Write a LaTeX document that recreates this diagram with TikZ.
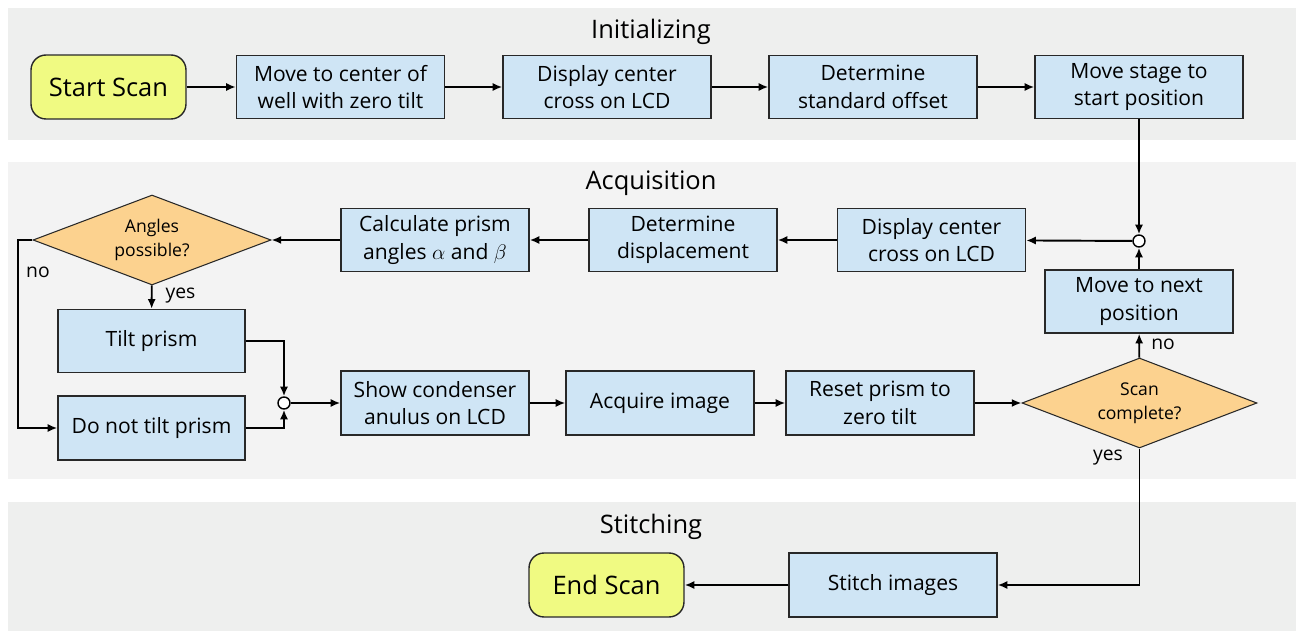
\documentclass[tikz,border=0pt]{standalone}
\usepackage{fontspec}
\setmainfont{Open Sans}
\usetikzlibrary{arrows.meta,shapes.geometric}
\definecolor{bandgray}{RGB}{238,239,238}
\definecolor{bandlight}{RGB}{243,243,243}
\definecolor{boxblue}{RGB}{207,229,245}
\definecolor{termyellow}{RGB}{240,250,130}
\definecolor{decorange}{RGB}{252,210,143}
\definecolor{edgegray}{RGB}{40,40,40}

\begin{document}
\begin{tikzpicture}[x=0.02cm,y=-0.02cm,
		proc/.style={draw=edgegray,line width=0.8pt,fill=boxblue,minimum width=4.16cm,minimum height=1.26cm,align=center,inner sep=0pt,font=\fontsize{12}{15.6}\selectfont},
		acq/.style={proc,minimum width=3.76cm},
		term/.style={draw=edgegray,line width=0.8pt,fill=termyellow,rounded corners=0.3cm,minimum width=3.1cm,minimum height=1.28cm,font=\fontsize{14.5}{17}\selectfont},
		decide/.style={diamond,aspect=2.6,draw=edgegray,line width=0.6pt,fill=decorange,inner sep=0pt,align=center,font=\fontsize{10}{13.5}\selectfont},
		junc/.style={circle,draw,line width=0.8pt,fill=white,inner sep=0pt,minimum size=0.24cm},
		title/.style={font=\fontsize{14.5}{17}\selectfont},
		lbl/.style={font=\fontsize{11}{13}\selectfont},
		flow/.style={line width=1.1pt,-{Latex[length=5.5pt,width=4.6pt]}}]
	\useasboundingbox (0,0) rectangle (1296,631);
	% bands
	\fill[bandgray] (8,8) rectangle (1296,140);
	\fill[bandlight] (8,162) rectangle (1296,479);
	\fill[bandgray] (8,502) rectangle (1296,631);
	\node[title] (tinit) at (651,32) {Initializing};
	\node[title] (tacq) at (651,183) {Acquisition};
	\node[title] (tstitch) at (651,527) {Stitching};
	% initializing
	\node[term] (start) at (108.5,87) {Start Scan};
	\node[proc] (center) at (340.5,87) {Move to center of\\well with zero tilt};
	\node[proc] (cross) at (607,87) {Display center\\cross on LCD};
	\node[proc] (offset) at (873,87) {Determine\\standard offset};
	\node[proc] (stage) at (1139,87) {Move stage to\\start position};
	% acquisition
	\node[junc] (jnext) at (1139,241) {};
	\node[acq] (crossb) at (931.5,240) {Display center\\cross on LCD};
	\node[acq] (displ) at (683,240) {Determine\\displacement};
	\node[acq] (calc) at (435,240) {Calculate prism\\angles $\alpha$ and $\beta$};
	\node[decide,minimum width=4.76cm,minimum height=1.8cm] (angles) at (152,240) {Angles\\possible?};
	\node[acq,minimum width=3.74cm] (tilt) at (151.5,341) {Tilt prism};
	\node[acq,minimum width=3.74cm,minimum height=1.28cm] (notilt) at (151.5,428) {Do not tilt prism};
	\node[junc] (jtilt) at (284,403) {};
	\node[acq,minimum height=1.28cm] (anulus) at (435,403) {Show condenser\\anulus on LCD};
	\node[acq,minimum height=1.28cm] (image) at (660,403) {Acquire image};
	\node[acq,minimum height=1.28cm] (reset) at (880,403) {Reset prism to\\zero tilt};
	\node[decide,minimum width=4.7cm,minimum height=1.8cm] (done) at (1139.5,403) {Scan\\complete?};
	\node[acq] (next) at (1139,301.5) {Move to next\\position};
	\coordinate (nocorner) at (18,240);
	% stitching
	\node[proc,minimum height=1.28cm] (stitch) at (893,585) {Stitch images};
	\node[term] (finish) at (606.5,585) {End Scan};
	% connectors
	\draw[flow] (start) -- (center);
	\draw[flow] (center) -- (cross);
	\draw[flow] (cross) -- (offset);
	\draw[flow] (offset) -- (stage);
	\draw[flow] (stage) -- (jnext);
	\draw[flow] (next) -- (jnext);
	\draw[flow] (jnext) -- (crossb);
	\draw[flow] (crossb) -- (displ);
	\draw[flow] (displ) -- (calc);
	\draw[flow] (calc) -- (angles);
	\draw[flow] (angles) -- node[lbl,right=4pt,pos=0.45] {yes} (tilt);
	\draw[flow] (angles.west) -- (nocorner) |- (notilt.west);
	\node[lbl] (nolbl) at (38,272) {no};
	\draw[flow] (tilt.east) -| (jtilt);
	\draw[flow] (notilt.east) -| (jtilt);
	\draw[flow] (jtilt) -- (anulus);
	\draw[flow] (anulus) -- (image);
	\draw[flow] (image) -- (reset);
	\draw[flow] (reset) -- (done);
	\draw[flow] (done) -- node[lbl,right=3pt,pos=0.55] {no} (next);
	\draw[flow] (done.south) |- (stitch.east);
	\node[lbl] (yeslbl) at (1108,458) {yes};
	\draw[flow] (stitch) -- (finish);
\end{tikzpicture}
\end{document}
